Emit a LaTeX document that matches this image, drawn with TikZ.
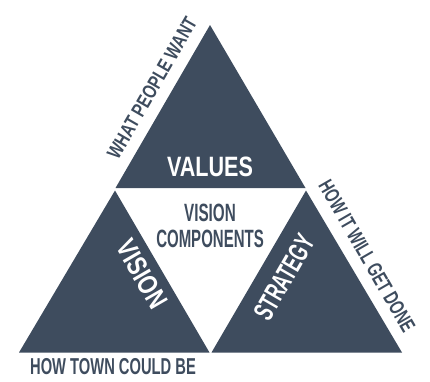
\documentclass[tikz,border=0pt]{standalone}
\usepackage{fontspec}
\setmainfont{Liberation Sans}
\usepackage{graphicx}
\definecolor{slate}{HTML}{3E4C5E}
% condensed bold caption text: size, horizontal squeeze, text
\newcommand{\condtext}[3]{{\fontsize{#1}{#1}\selectfont\bfseries\scalebox{#2}[1]{#3}}}
\tikzset{
  piece/.style={fill=slate},
  lbl/.style={inner sep=0pt, outer sep=0pt},
  inlbl/.style={lbl, text=white},
  outlbl/.style={lbl, text=slate}
}
\begin{document}
\begin{tikzpicture}[x=1pt,y=-1pt]
  \useasboundingbox (0,0) rectangle (430,381);
  % the three dark triangles
  \coordinate (top) at (210,25);
  \coordinate (tl) at (115.5,188);
  \coordinate (tr) at (305.5,188);
  \coordinate (la) at (115,190.5);
  \coordinate (ll) at (19,352.5);
  \coordinate (lr) at (209.5,352.5);
  \coordinate (ra) at (306,190.5);
  \coordinate (rl) at (211.5,352.5);
  \coordinate (rr) at (402,352.5);
  \fill[piece] (top) -- (tr) -- (tl) -- cycle;
  \fill[piece] (la) -- (lr) -- (ll) -- cycle;
  \fill[piece] (ra) -- (rr) -- (rl) -- cycle;
  % labels inside the triangles
  \node[inlbl] (values) at (210,167) {\condtext{28}{0.77}{VALUES}};
  \node[inlbl, rotate=-60] (vision) at (142,274) {\condtext{28}{0.78}{VISION}};
  \node[inlbl, rotate=60] (strategy) at (284,277) {\condtext{28}{0.62}{STRATEGY}};
  \node[outlbl] (vc1) at (210,213) {\condtext{25}{0.61}{VISION}};
  \node[outlbl] (vc2) at (210,239) {\condtext{25}{0.60}{COMPONENTS}};
  % labels outside the triangles
  \node[outlbl, rotate=60] (want) at (152,88) {\condtext{20}{0.76}{WHAT PEOPLE WANT}};
  \node[outlbl, rotate=-60] (done) at (367,256) {\condtext{21}{0.69}{HOW IT WILL GET DONE}};
  \node[outlbl] (town) at (113,367) {\condtext{23}{0.64}{HOW TOWN COULD BE}};
\end{tikzpicture}
\end{document}
